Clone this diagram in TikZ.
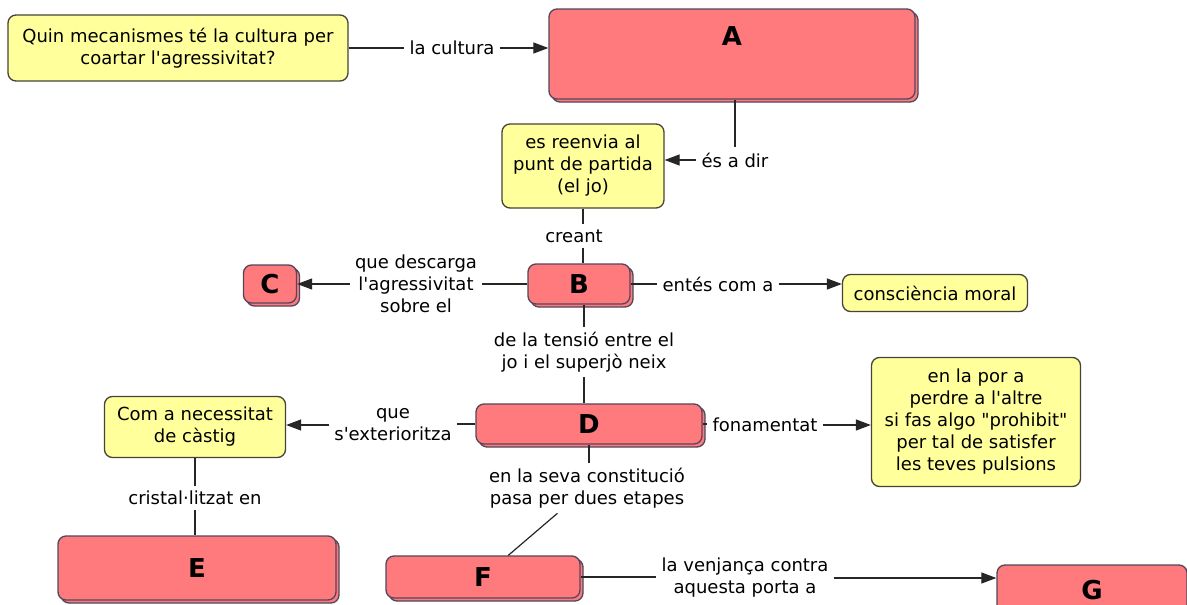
\documentclass[tikz,border=0pt]{standalone}
\usepackage{fontspec}
\setmainfont{DejaVu Sans}[Ligatures=TeXOff]
\usetikzlibrary{arrows.meta,shadows}
\definecolor{qyellow}{RGB}{255,255,156}
\definecolor{qborder}{RGB}{70,68,56}
\definecolor{ppink}{RGB}{255,122,125}
\definecolor{pborder}{RGB}{82,70,92}
\def\mapfont{\fontsize{18}{22}\selectfont}
\def\letterfont{\fontsize{26}{30}\selectfont\bfseries}
\tikzset{
  qbox/.style={draw=qborder, fill=qyellow, line width=1.3pt, rounded corners=8pt, align=center, font=\mapfont, inner sep=0pt},
  pbox/.style={draw=pborder, fill=ppink, line width=1.3pt, rounded corners=8pt, font=\letterfont, inner sep=0pt,
    copy shadow={shadow xshift=3pt, shadow yshift=-3pt}},
  link/.style={align=center, font=\mapfont, inner sep=5pt},
  conn/.style={line width=1.2pt, black!85},
  arr/.style={conn, -{Triangle[length=15pt,width=11pt]}}
}

\begin{document}
\begin{tikzpicture}[x=1pt,y=-1pt]
			%%%%% START %%%%%
			\useasboundingbox (0,0) rectangle (1187,605);
			\fill[white] (0,0) rectangle (1187,605);
			
			% concepts
			\node[qbox, minimum width=340pt, minimum height=66pt] (quin) at (178,48) {Quin mecanismes té la cultura per\\coartar l'agressivitat?};
			\node[pbox, minimum width=366pt, minimum height=90pt, inner ysep=18pt, text depth=35pt] (A) at (732,54) {A};
			\node[qbox, minimum width=162pt, minimum height=84pt] (reenvia) at (583,166) {es reenvia al\\punt de partida\\(el jo)};
			\node[pbox, minimum width=102pt, minimum height=40pt] (B) at (579,284) {B};
			\node[pbox, minimum width=53pt, minimum height=38pt] (C) at (270,284) {C};
			\node[qbox, minimum width=185pt, minimum height=37pt] (moral) at (935,293) {consciència moral};
			\node[pbox, minimum width=226pt, minimum height=40pt] (D) at (589,424) {D};
			\node[qbox, minimum width=181pt, minimum height=61pt] (castig) at (195,427) {Com a necessitat\\de càstig};
			\node[qbox, minimum width=209pt, minimum height=129pt] (por) at (976,422) {en la por a\\perdre a l'altre\\si fas algo "prohibit"\\per tal de satisfer\\les teves pulsions};
			\node[pbox, minimum width=278pt, minimum height=64pt] (E) at (197,568) {E\hspace{20pt}};
			\node[pbox, minimum width=194pt, minimum height=42pt] (F) at (483,577) {F\hspace{46pt}};
			\node[pbox, minimum width=190pt, minimum height=50pt] (G) at (1092,590) {G};
			
			% linking phrases
			\node[link] (lcultura) at (452,48) {la cultura};
			\node[link] (ldir) at (735,160) {és a dir};
			\node[link] (lcreant) at (574,236) {creant};
			\node[link] (ldescarga) at (416,284) {que descarga\\l'agressivitat\\sobre el};
			\node[link] (lentes) at (718,284) {entés com a};
			\node[link] (ltensio) at (584,352) {de la tensió entre el\\jo i el superjò neix};
			\node[link] (lexter) at (393,425) {que\\s'exterioritza};
			\node[link] (lfonam) at (765,425) {fonamentat};
			\node[link] (lcristal) at (195,498) {cristal·litzat en};
			\node[link] (lconst) at (587,488) {en la seva constitució\\pasa per dues etapes};
			\node[link] (lvenj) at (745,578) {la venjança contra\\aquesta porta a};
			
			% connectors
			\draw[conn] (quin.east) -- (lcultura.west);
			\draw[arr] (lcultura.east) -- (lcultura.east -| A.west);
			\draw[conn] (ldir.north |- A.south) -- (ldir.north);
			\draw[arr] (ldir.west) -- (ldir.west -| reenvia.east);
			\draw[conn] (reenvia.south) -- (reenvia.south |- lcreant.north);
			\draw[conn] (reenvia.south |- lcreant.south) -- (reenvia.south |- B.north);
			\draw[conn] (B.west) -- (ldescarga.east);
			\draw[arr] (ldescarga.west) -- (C.east);
			\draw[conn] (B.east) -- (lentes.west);
			\draw[arr] (lentes.east) -- (lentes.east -| moral.west);
			\draw[conn] (ltensio.north |- B.south) -- (ltensio.north);
			\draw[conn] (ltensio.south) -- (ltensio.south |- D.north);
			\draw[conn] (D.west) -- (D.west -| lexter.east);
			\draw[arr] (lexter.west) -- (lexter.west -| castig.east);
			\draw[conn] (D.east) -- (D.east -| lfonam.west);
			\draw[arr] (lfonam.east) -- (lfonam.east -| por.west);
			\draw[conn] (castig.south) -- (lcristal.north);
			\draw[conn] (lcristal.south) -- (lcristal.south |- E.north);
			\draw[conn] (lconst.north -| D.south) -- (D.south);
			\draw[conn] (lconst) -- (F);
			\draw[conn] (F.east) -- (F.east -| lvenj.west);
			\draw[arr] (lvenj.east) -- (lvenj.east -| G.west);
			
			%%%%% END %%%%%
\end{tikzpicture}
\end{document}
